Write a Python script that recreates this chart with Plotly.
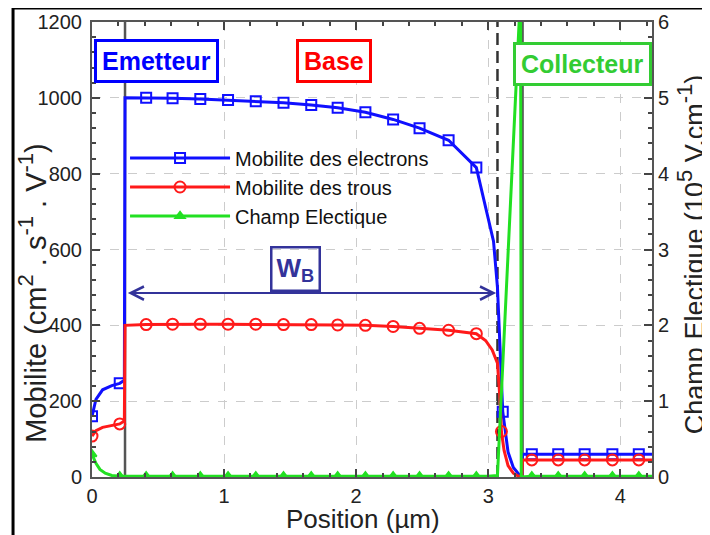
import plotly.graph_objects as go

# ---------------- data ----------------
# Electron mobility (cm^2/V/s) vs position (um)
pos_e = [0.00, 0.03, 0.08, 0.15, 0.21, 0.245, 0.25, 0.41, 0.61, 0.82, 1.03, 1.24, 1.45,
         1.66, 1.86, 2.07, 2.28, 2.48, 2.70, 2.91, 2.98, 3.04, 3.07, 3.09, 3.11, 3.15,
         3.19, 3.23, 3.255, 3.26, 3.33, 3.53, 3.73, 3.94, 4.14, 4.24]
mob_e = [160, 205, 230, 241, 247, 255, 1000, 1000, 999, 997, 994, 991, 987,
         981, 974, 962, 943, 920, 888, 816, 710, 622, 500, 320, 172, 66,
         25, 8, 0, 60, 60, 60, 60, 60, 60, 60]
mark_e = [0.00, 0.21, 0.41, 0.61, 0.82, 1.03, 1.24, 1.45, 1.66, 1.86, 2.07, 2.28,
          2.48, 2.70, 2.91, 3.11, 3.33, 3.53, 3.73, 3.94, 4.14]

# Hole mobility
pos_h = [0.00, 0.03, 0.08, 0.15, 0.21, 0.245, 0.25, 0.41, 0.61, 0.82, 1.03, 1.24, 1.45,
         1.66, 1.86, 2.07, 2.28, 2.48, 2.70, 2.91, 2.98, 3.03, 3.07, 3.09, 3.10, 3.12,
         3.15, 3.19, 3.23, 3.255, 3.26, 3.33, 3.53, 3.73, 3.94, 4.14, 4.24]
mob_h = [108, 122, 131, 136, 140, 148, 400, 402, 403, 403, 403, 403, 402,
         402, 401, 400, 397, 392, 387, 378, 360, 335, 300, 200, 120, 70,
         30, 10, 2, 0, 45, 45, 45, 45, 45, 45, 45]
mark_h = [0.00, 0.21, 0.41, 0.61, 0.82, 1.03, 1.24, 1.45, 1.66, 1.86, 2.07, 2.28,
          2.48, 2.70, 2.91, 3.10, 3.33, 3.53, 3.73, 3.94, 4.14]

# Electric field (1e5 V/cm)
pos_f = [0.00, 0.03, 0.06, 0.10, 0.15, 0.21, 0.41, 0.61, 0.82, 1.03, 1.24, 1.45, 1.66,
         1.86, 2.07, 2.28, 2.48, 2.70, 2.91, 3.00, 3.07, 3.245, 3.25, 3.33, 3.53,
         3.73, 3.94, 4.14, 4.24]
field = [0.30, 0.18, 0.10, 0.05, 0.02, 0.01, 0.01, 0.01, 0.01, 0.01, 0.01, 0.01, 0.01,
         0.01, 0.01, 0.01, 0.01, 0.01, 0.01, 0.01, 0.02, 6.4, 0.0, 0.01, 0.01,
         0.01, 0.01, 0.01, 0.01]
mark_f = [0.00, 0.21, 0.41, 0.61, 0.82, 1.03, 1.24, 1.45, 1.66, 1.86, 2.07, 2.28,
          2.48, 2.70, 2.91, 3.33, 3.53, 3.73, 3.94, 4.14]

series_names = ["Mobilite des electrons", "Mobilite des trous", "Champ Electique"]
x_ticks = [0, 1, 2, 3, 4]
y_ticks = [0, 200, 400, 600, 800, 1000, 1200]
y2_ticks = [0, 1, 2, 3, 4, 5, 6]

# junction / region boundaries (um)
emitter_edge = 0.25
depletion_edge = 3.07
collector_edge = 3.26
wb_level = 485

# ---------------- styles ----------------
BLUE = "#1010ff"
RED = "#ff1a1a"
GREEN = "#22e022"
NAVY = "#33339a"
FONT = "Liberation Sans, Arial, Helvetica, sans-serif"


def sup(s, px=22):
    return "<sup><span style='font-size:%dpx'>%s</span></sup>" % (px, s)


def pick(xs, ys, sel):
    lut = dict(zip(xs, ys))
    return [x for x in sel], [lut[x] for x in sel]


fig = go.Figure()

specs = [
    (pos_e, mob_e, mark_e, BLUE, "square-open", 10, "y", series_names[0]),
    (pos_h, mob_h, mark_h, RED, "circle-open", 11, "y", series_names[1]),
    (pos_f, field, mark_f, GREEN, "triangle-up", 8, "y2", series_names[2]),
]
for xs, ys, sel, col, sym, msz, ax, name in specs:
    fig.add_trace(go.Scatter(x=xs, y=ys, mode="lines", yaxis=ax,
                             line=dict(color=col, width=3), showlegend=False,
                             hoverinfo="skip"))
    mx, my = pick(xs, ys, sel)
    fig.add_trace(go.Scatter(x=mx, y=my, mode="markers", yaxis=ax,
                             marker=dict(symbol=sym, size=msz, color=col,
                                         line=dict(color=col, width=2)),
                             showlegend=False, cliponaxis=True))
    # legend entry
    fig.add_trace(go.Scatter(x=[None], y=[None], mode="lines+markers", yaxis=ax,
                             name=name, line=dict(color=col, width=3),
                             marker=dict(symbol=sym, size=msz, color=col,
                                         line=dict(color=col, width=2))))

shapes = []
for xv, dash, col in [(emitter_edge, "solid", "#555555"),
                      (depletion_edge, "12px,6px", "#333333"),
                      (collector_edge, "solid", "#555555")]:
    shapes.append(dict(type="line", xref="x", yref="y", x0=xv, x1=xv, y0=0, y1=1200,
                       line=dict(color=col, width=2.5, dash=dash), layer="below"))
# outer frame (left and top)
shapes.append(dict(type="line", xref="paper", yref="paper", x0=-0.141, x1=-0.141,
                   y0=-0.2, y1=1.031, line=dict(color="black", width=3)))
shapes.append(dict(type="line", xref="paper", yref="paper", x0=-0.141, x1=1.2,
                   y0=1.031, y1=1.031, line=dict(color="black", width=3)))

box = dict(showarrow=False, xref="x", yref="y", borderpad=5, borderwidth=3,
           bgcolor="white")
annotations = [
    dict(x=0.485, y=1097, text="Emetteur",
         font=dict(family=FONT, size=25, color="#0000ff", weight="bold"),
         bordercolor="#0000ff", **box),
    dict(x=1.83, y=1098, text="Base",
         font=dict(family=FONT, size=25, color="#ff0000", weight="bold"),
         bordercolor="#ff0000", **box),
    dict(x=3.71, y=1089, text="Collecteur",
         font=dict(family=FONT, size=25, color="#33cc33", weight="bold"),
         bordercolor="#33cc33", **box),
    dict(x=1.54, y=548, xref="x", yref="y", text="W<sub>B</sub>", showarrow=False,
         font=dict(family=FONT, size=26, color=NAVY, weight="bold"),
         bordercolor=NAVY, borderwidth=2.5, borderpad=4),
    dict(x=depletion_edge - 0.01, y=wb_level, ax=emitter_edge + 0.01, ay=wb_level,
         xref="x", yref="y", axref="x", ayref="y", text="", showarrow=True,
         arrowside="end+start", arrowhead=5, startarrowhead=5, arrowsize=1.3,
         startarrowsize=1.3, arrowwidth=2, arrowcolor=NAVY),
    dict(x=0.484, y=-0.093, xref="paper", yref="paper", text="Position (µm)",
         xanchor="center", yanchor="middle",
         showarrow=False, font=dict(family=FONT, size=26, color="#222")),
    dict(x=-0.107, y=0.405, xref="paper", yref="paper",
         text="Mobilite (cm" + sup("2") + " . s" + sup("-1") + " . V" + sup("-1") + ")",
         textangle=-90, xanchor="center", yanchor="middle",
         showarrow=False, font=dict(family=FONT, size=29, color="#222")),
    dict(x=1.07, y=0.488, xref="paper", yref="paper",
         text="Champ Electique (10" + sup("5") + " V.cm" + sup("-1") + ")",
         textangle=-90, xanchor="center", yanchor="middle",
         showarrow=False, font=dict(family=FONT, size=27, color="#222")),
]

axis_common = dict(ticks="inside", ticklen=8, tickwidth=1.5, tickcolor="#444",
                   showline=True, linecolor="#555", linewidth=2,
                   tickfont=dict(family=FONT, size=20, color="#222"),
                   zeroline=False, automargin=False)

fig.update_layout(
    width=702, height=527,
    margin=dict(l=84, r=58, t=14, b=58),
    paper_bgcolor="white", plot_bgcolor="white",
    font=dict(family=FONT),
    xaxis=dict(range=[0, 4.24], tickvals=x_ticks, mirror="ticks",
               showgrid=True, gridcolor="#cccccc", griddash="dash", gridwidth=1,
               minor=dict(dtick=0.2, ticks="inside", ticklen=4, tickcolor="#444"),
               **axis_common),
    yaxis=dict(range=[0, 1200], tickvals=y_ticks, ticklabelstandoff=4,
               showgrid=True, gridcolor="#cccccc", griddash="dash", gridwidth=1,
               minor=dict(dtick=40, ticks="inside", ticklen=4, tickcolor="#444"),
               **axis_common),
    yaxis2=dict(range=[0, 6], tickvals=y2_ticks, overlaying="y", side="right",
                showgrid=False,
                minor=dict(dtick=0.2, ticks="inside", ticklen=4, tickcolor="#444"),
                **axis_common),
    legend=dict(x=0.059, y=0.744, xanchor="left", yanchor="top",
                bgcolor="rgba(0,0,0,0)", itemwidth=100,
                font=dict(family=FONT, size=20, color="#111"), tracegroupgap=0),
    shapes=shapes,
    annotations=annotations,
)

fig.write_html("out.html")
